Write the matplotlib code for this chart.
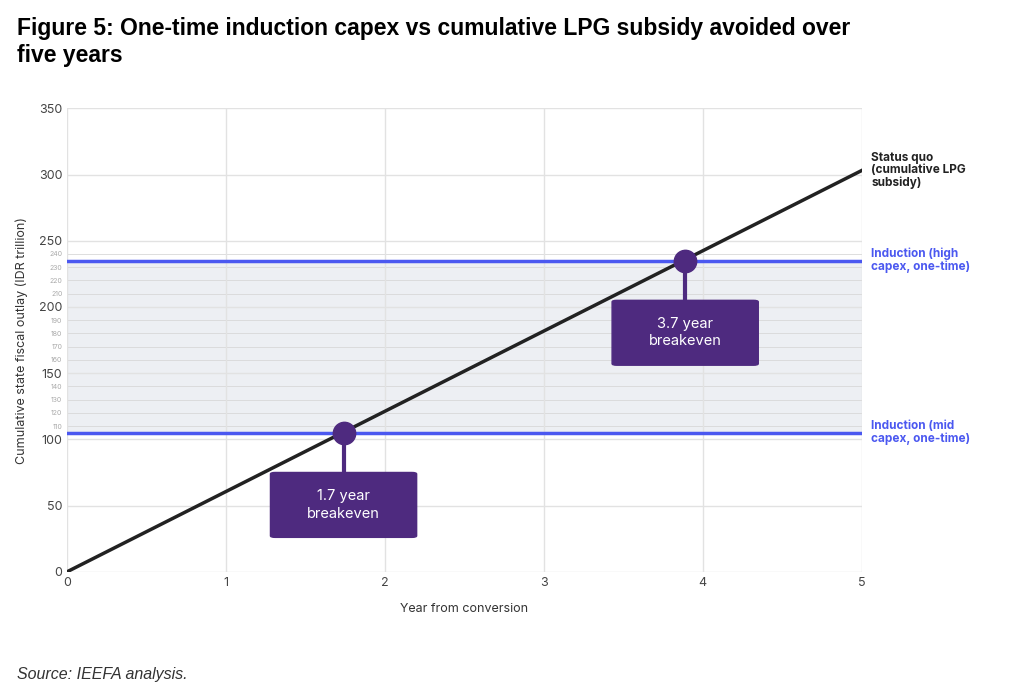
import matplotlib
matplotlib.use("Agg")
import matplotlib.pyplot as plt
from matplotlib.patches import FancyBboxPatch

years = [0, 5]
status_quo = [0, 303]
mid_capex = 105
high_capex = 235
breakeven_x = [1.74, 3.89]
breakeven_y = [105, 235]
breakeven_labels = ["1.7 year\nbreakeven", "3.7 year\nbreakeven"]
major_yticks = [0, 50, 100, 150, 200, 250, 300, 350]
minor_yticks = [110, 120, 130, 140, 160, 170, 180, 190, 210, 220, 230, 240]

plt.rcParams['font.family'] = ['Inter', 'DejaVu Sans']
fig = plt.figure(figsize=(10.16, 6.99), dpi=100)
ax = fig.add_axes([0.066, 0.182, 0.782, 0.663])
ax.set_xlim(0, 5)
ax.set_ylim(0, 350)

ax.axhspan(mid_capex, high_capex, color='#e9ecf0', alpha=0.8, zorder=0, lw=0)
for y in major_yticks:
    ax.axhline(y, color='#e2e2e2', lw=1, zorder=0.5)
for y in minor_yticks:
    ax.axhline(y, color='#d8d8d8', lw=0.6, zorder=0.5)
for x in range(6):
    ax.axvline(x, color='#e2e2e2', lw=1, zorder=0.5)

ax.axhline(high_capex, color='#4b58f0', lw=2.5, zorder=2)
ax.axhline(mid_capex, color='#4b58f0', lw=2.5, zorder=2)
ax.plot(years, status_quo, color='#222222', lw=2.5, zorder=3)

purple = '#4e2a7f'
box_w, box_h, box_gap = 0.92, 49, 30
for bx, by, lab in zip(breakeven_x, breakeven_y, breakeven_labels):
    ax.scatter([bx], [by], s=260, color=purple, zorder=5)
    top = by - box_gap
    ax.plot([bx, bx], [by, top], color=purple, lw=3, zorder=4)
    ax.add_patch(FancyBboxPatch((bx - box_w / 2, top - box_h), box_w, box_h,
                                boxstyle='round,pad=0,rounding_size=0.03',
                                mutation_aspect=40, fc=purple, ec=purple, zorder=5))
    ax.text(bx, top - box_h / 2, lab, ha='center', va='center', color='white',
            fontsize=10.5, zorder=6, linespacing=1.3)

ax.set_yticks(major_yticks)
ax.set_yticks(minor_yticks, minor=True)
ax.set_yticklabels([str(v) for v in minor_yticks], minor=True, fontsize=5, color='#aaaaaa')
ax.set_xticks(range(6))
ax.tick_params(axis='both', which='both', length=0, labelsize=9, colors='#444444')
ax.tick_params(axis='y', which='minor', labelsize=5, colors='#aaaaaa')
for s in ax.spines.values():
    s.set_visible(False)
ax.set_xlabel("Year from conversion", fontsize=9, color='#333333', labelpad=10)
ax.set_ylabel("Cumulative state fiscal outlay (IDR trillion)", fontsize=9, color='#333333', labelpad=8)

ax.text(5.06, 303, "Status quo\n(cumulative LPG\nsubsidy)", fontsize=8.5, fontweight='bold',
        color='#222222', va='center', ha='left', clip_on=False, linespacing=1.05)
ax.text(5.06, high_capex, "Induction (high\ncapex, one-time)", fontsize=8.5, fontweight='bold',
        color='#4b58f0', va='center', ha='left', clip_on=False, linespacing=1.05)
ax.text(5.06, mid_capex, "Induction (mid\ncapex, one-time)", fontsize=8.5, fontweight='bold',
        color='#4b58f0', va='center', ha='left', clip_on=False, linespacing=1.05)

fig.text(0.017, 0.94, "Figure 5: One-time induction capex vs cumulative LPG subsidy avoided over\nfive years",
         fontsize=16.5, fontweight='bold', family=['Liberation Sans', 'DejaVu Sans'], va='center', linespacing=1.2)
fig.text(0.017, 0.035, "Source: IEEFA analysis.", fontsize=11.5, style='italic',
         family=['Liberation Sans', 'DejaVu Sans'], color='#333333', va='center')
fig.savefig("out.png", dpi=100)
